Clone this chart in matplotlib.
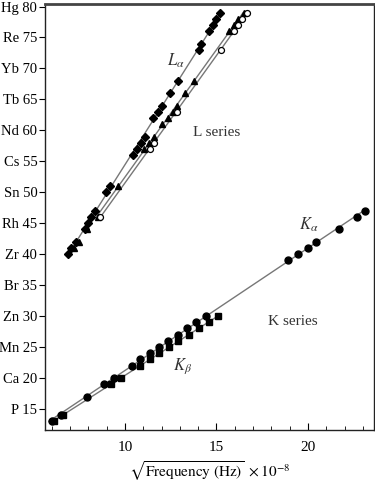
import numpy as np
import matplotlib
matplotlib.use('Agg')
import matplotlib.pyplot as plt

plt.rcParams['font.family'] = ['Liberation Serif', 'DejaVu Serif']
plt.rcParams['mathtext.fontset'] = 'stix'

# K series: atomic number Z vs sqrt(frequency) x 1e-8
ka_z = [13, 14, 17, 19, 20, 22, 23, 24, 25, 26, 27, 28, 29, 30, 39, 40, 41, 42, 44, 46, 47]
ka_x = [5.99, 6.49, 7.9, 8.87, 9.4, 10.37, 10.82, 11.37, 11.86, 12.35, 12.9, 13.37, 13.88, 14.43,
        18.9, 19.44, 19.98, 20.42, 21.7, 22.66, 23.1]
kb_z = [13, 14, 19, 20, 22, 23, 24, 25, 26, 27, 28, 29, 30]
kb_x = [6.1, 6.6, 9.23, 9.78, 10.82, 11.37, 11.86, 12.4, 12.9, 13.5, 14.04, 14.6, 15.08]

# L series
la_z = [40, 41, 42, 44, 45, 46, 47, 50, 51, 56, 57, 58, 59, 62, 63, 64, 66, 68, 73, 74, 76, 77, 78, 79]
la_x = [6.87, 7.05, 7.35, 7.8, 8.0, 8.15, 8.36, 8.95, 9.2, 10.42, 10.65, 10.9, 11.1, 11.55, 11.8,
        12.05, 12.46, 12.9, 14.05, 14.15, 14.6, 14.8, 15.0, 15.2]
lb_z = [46, 51, 57, 58, 59, 61, 62, 63, 64, 66, 68, 76, 77, 78, 79]
lb_x = [8.5, 9.6, 11.05, 11.3, 11.6, 12.05, 12.35, 12.6, 12.85, 13.3, 13.75, 15.7, 15.95, 16.2, 16.5]
lb_low_z = [41, 42, 44]
lb_low_x = [7.2, 7.5, 7.95]
lg_z = [46, 57, 58, 63, 73, 76, 77, 78, 79]
lg_x = [8.62, 11.35, 11.58, 12.85, 15.22, 15.95, 16.2, 16.42, 16.65]

ytick_vals = [15, 20, 25, 30, 35, 40, 45, 50, 55, 60, 65, 70, 75, 80]
ytick_syms = ['P', 'Ca', 'Mn', 'Zn', 'Br', 'Zr', 'Rh', 'Sn', 'Cs', 'Nd', 'Tb', 'Yb', 'Re', 'Hg']

fig = plt.figure(figsize=(3.75, 4.84), dpi=100)
ax = fig.add_axes([0.12, 0.1116, 0.877, 0.88])

line_kw = dict(color='#777777', lw=1.0, zorder=1)


def fit_line(x, z):
    # straight line through the points of one series, over its Z range
    p = np.polyfit(z, x, 1)
    zz = np.array([min(z), max(z)])
    ax.plot(np.polyval(p, zz), zz, **line_kw)


for xs, zs in [(ka_x, ka_z), (kb_x, kb_z), (la_x, la_z), (lb_x, lb_z), (lg_x, lg_z)]:
    fit_line(xs, zs)

ax.plot(ka_x, ka_z, 'o', color='black', ms=5, zorder=3)
ax.plot(kb_x, kb_z, 's', color='black', ms=4.3, zorder=3)
ax.plot(la_x, la_z, 'D', color='black', ms=3.6, zorder=3)
ax.plot(lb_x + lb_low_x, lb_z + lb_low_z, '^', color='black', ms=4.3, zorder=3)
ax.plot(lg_x, lg_z, 'o', mfc='white', mec='black', mew=0.9, ms=4.3, zorder=4)

ax.text(12.3, 70.4, r'$L_{\alpha}$', fontsize=12, color='#333333')
ax.text(13.7, 59.1, 'L series', fontsize=11, color='#333333')
ax.text(19.5, 44.0, r'$K_{\alpha}$', fontsize=12, color='#333333')
ax.text(17.8, 28.6, 'K series', fontsize=11, color='#333333')
ax.text(12.6, 21.3, r'$K_{\beta}$', fontsize=12, color='#333333')

ax.set_xlim(5.63, 23.6)
ax.set_ylim(11.6, 80.4)
ax.set_xticks([10, 15, 20])
ax.set_xticks(np.arange(6, 24, 1), minor=True)
ax.tick_params(axis='x', which='both', direction='in', labelsize=11, pad=8)
ax.tick_params(axis='x', which='major', length=5)
ax.tick_params(axis='x', which='minor', length=3)
ax.set_yticks(ytick_vals)
ax.set_yticklabels([s + ' ' + str(v) for s, v in zip(ytick_syms, ytick_vals)])
ax.tick_params(axis='y', direction='out', length=4, labelsize=10.5, pad=1.5)

for side in ['left', 'bottom', 'right']:
    ax.spines[side].set_color('#222222')
    ax.spines[side].set_linewidth(1.0)
ax.spines['top'].set_color('#444444')
ax.spines['top'].set_linewidth(2.0)

ax.set_xlabel(r'$\sqrt{\mathrm{Frequency\ (Hz)}}\ \times 10^{-8}$', fontsize=11, labelpad=4)

fig.savefig('out.png', dpi=100)
